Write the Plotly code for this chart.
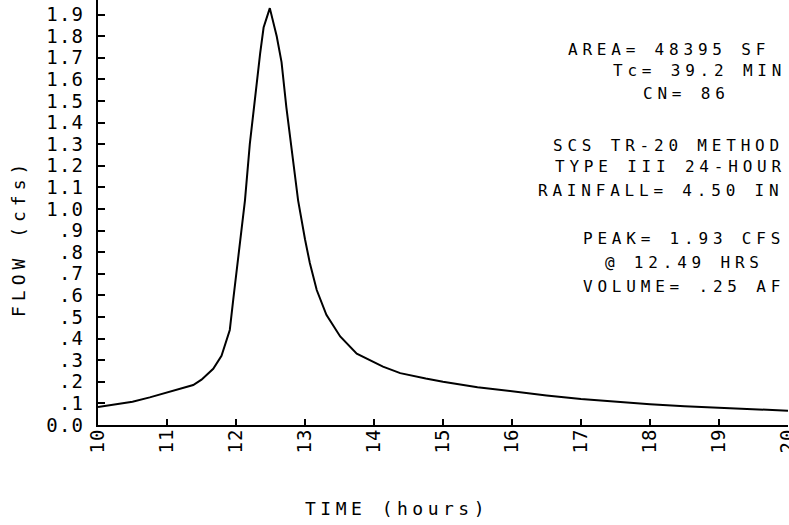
import plotly.graph_objects as go

# ---- data ----
time_hr = [10.0, 10.25, 10.5, 10.75, 11.0, 11.25, 11.38, 11.5, 11.67, 11.79, 11.91,
           11.96, 12.06, 12.13, 12.20, 12.30, 12.35, 12.40, 12.49, 12.59, 12.66,
           12.73, 12.81, 12.90, 13.0, 13.07, 13.17, 13.31, 13.51, 13.75, 14.13,
           14.38, 14.75, 15.0, 15.5, 16.0, 16.5, 17.0, 17.5, 18.0, 18.5, 19.0,
           19.5, 20.0]
flow_cfs = [0.083, 0.095, 0.108, 0.128, 0.15, 0.17, 0.185, 0.21, 0.26, 0.32, 0.44,
            0.58, 0.84, 1.04, 1.30, 1.60, 1.72, 1.84, 1.93, 1.80, 1.68,
            1.47, 1.27, 1.04, 0.86, 0.75, 0.625, 0.51, 0.41, 0.33, 0.27,
            0.24, 0.215, 0.20, 0.175, 0.155, 0.137, 0.12, 0.107, 0.096, 0.087, 0.079,
            0.072, 0.066]

y_tick_vals = [0.0, 0.1, 0.2, 0.3, 0.4, 0.5, 0.6, 0.7, 0.8, 0.9,
               1.0, 1.1, 1.2, 1.3, 1.4, 1.5, 1.6, 1.7, 1.8, 1.9]
y_tick_text = ["0.0", ".1", ".2", ".3", ".4", ".5", ".6", ".7", ".8", ".9",
               "1.0", "1.1", "1.2", "1.3", "1.4", "1.5", "1.6", "1.7", "1.8", "1.9"]
x_tick_vals = [10, 11, 12, 13, 14, 15, 16, 17, 18, 19, 20]
x_tick_text = ["10", "11", "12", "13", "14", "15", "16", "17", "18", "19", "20"]

info_lines = ["AREA= 48395 SF", "Tc= 39.2 MIN", "CN= 86",
              "SCS TR-20 METHOD", "TYPE III 24-HOUR", "RAINFALL= 4.50 IN",
              "PEAK= 1.93 CFS", "@ 12.49 HRS", "VOLUME= .25 AF"]
x_title = "TIME (hours)"
y_title = "FLOW (cfs)"

# ---- layout geometry (pixels) ----
W, H = 789, 525
L, R, T, B = 98, 1, 0, 100
PW, PH = W - L - R, H - T - B
X0, X1 = 10.0, 20.0
Y_PER_PX = 1.0 / 216.0
FONT = "DejaVu Sans Mono"

def dx(px):
    return X0 + (px - L) * (X1 - X0) / PW

def dy(py):
    return (H - B - py) * Y_PER_PX

def px_x(px):
    return (px - L) / PW

def px_y(py):
    return (H - B - py) / PH

def spaced(txt, sp):
    return '<span style="letter-spacing:%spx">%s</span>' % (sp, txt)

info_left = [568, 613, 643, 553, 555, 538, 583, 605, 583]
info_mid = [51, 72, 95, 147, 168, 192, 240, 264, 288]

fig = go.Figure()
fig.add_trace(go.Scatter(x=time_hr, y=flow_cfs, mode="lines",
                         line=dict(color="black", width=2), hoverinfo="skip"))

# info block as text marks (left aligned at measured pixel positions)
fig.add_trace(go.Scatter(
    x=[dx(p) for p in info_left], y=[dy(p) for p in info_mid],
    mode="text", textposition="middle right", cliponaxis=False,
    text=[spaced(t, 4.8) for t in info_lines],
    textfont=dict(family=FONT, size=16, color="black"), hoverinfo="skip"))

annotations = [
    dict(text=spaced(x_title, 4.5),
         x=px_x(303), y=px_y(508), xref="paper", yref="paper",
         xanchor="left", yanchor="middle", showarrow=False,
         font=dict(family=FONT, size=18, color="black")),
    dict(text=spaced(y_title, 5),
         x=px_x(18), y=px_y(238), xref="paper", yref="paper",
         xanchor="center", yanchor="middle", textangle=-90, showarrow=False,
         font=dict(family=FONT, size=18, color="black")),
]

fig.update_layout(
    width=W, height=H, autosize=False,
    margin=dict(l=L, r=R, t=T, b=B, pad=0, autoexpand=False),
    paper_bgcolor="white", plot_bgcolor="white",
    showlegend=False,
    annotations=annotations,
    xaxis=dict(range=[X0, X1], tickvals=x_tick_vals,
               ticktext=[spaced(t, 1) for t in x_tick_text],
               ticks="inside", ticklen=6, tickwidth=1.5, tickcolor="black",
               showline=True, linewidth=2, linecolor="black",
               showgrid=False, zeroline=False, tickangle=-90, automargin=False,
               ticklabelstandoff=-6, ticklabeloverflow="allow",
               tickfont=dict(family=FONT, size=19, color="black")),
    yaxis=dict(range=[0, PH * Y_PER_PX], tickvals=y_tick_vals,
               ticktext=[spaced(t, 1.2) for t in y_tick_text],
               ticks="inside", ticklen=7, tickwidth=1.5, tickcolor="black",
               showline=True, linewidth=2, linecolor="black", automargin=False,
               showgrid=False, zeroline=False, ticklabelstandoff=8,
               tickfont=dict(family=FONT, size=19, color="black")),
)

fig.write_html("out.html",
               config={"displayModeBar": False, "responsive": False},
               post_script="document.body.style.margin='0';"
                           "document.body.style.overflow='hidden';")
